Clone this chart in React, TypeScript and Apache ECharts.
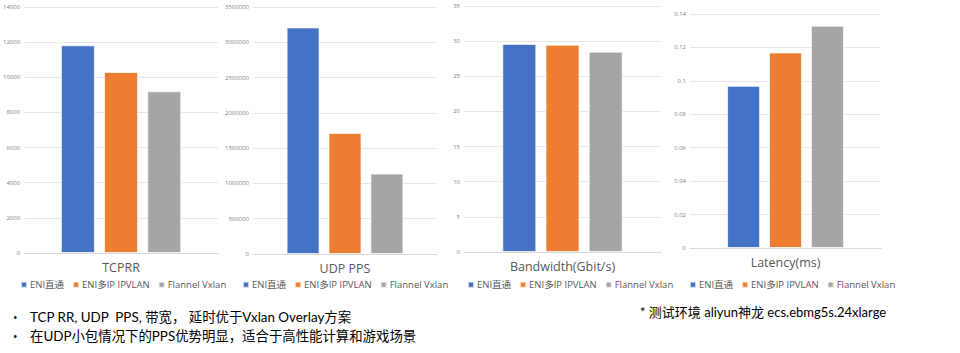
import React, { useEffect, useRef } from "react";
import * as echarts from "echarts";

const categories = ["TCPRR", "UDP PPS", "Bandwidth(Gbit/s)", "Latency(ms)"];
const seriesNames = ["ENI直通", "ENI多IP IPVLAN", "Flannel Vxlan"];
const eniDirect = [11820, 3210000, 29.6, 0.097];
const eniIpvlan = [10300, 1715000, 29.5, 0.117];
const flannelVxlan = [9200, 1140000, 28.5, 0.133];
const yMax = [14000, 3500000, 35, 0.14];
const yInterval = [2000, 500000, 5, 0.02];
const colors = ["#4472C4", "#ED7D31", "#A5A5A5"];
const bulletLines = [
  "TCP RR, UDP  PPS, 带宽， 延时优于Vxlan Overlay方案",
  "在UDP小包情况下的PPS优势明显，适合于高性能计算和游戏场景",
];
const envNote = "* 测试环境 aliyun神龙 ecs.ebmg5s.24xlarge";

const grids = [
  { left: 24, top: 7, width: 194, height: 246, barWidth: 34, legendLeft: 20 },
  { left: 253, top: 7, width: 184, height: 247, barWidth: 33, legendLeft: 242 },
  { left: 464, top: 6, width: 197, height: 246, barWidth: 34, legendLeft: 467 },
  { left: 690, top: 14, width: 191, height: 234, barWidth: 33, legendLeft: 689 },
];

const FONT = "'Open Sans', 'Noto Sans CJK SC', sans-serif";
const NOTE_FONT = "Lato, 'Noto Sans CJK SC', sans-serif";

export default function App() {
  const ref = useRef<HTMLDivElement>(null);
  useEffect(() => {
    if (!ref.current) return;
    const chart = echarts.init(ref.current, undefined, { renderer: "svg" });
    const valueSets = [eniDirect, eniIpvlan, flannelVxlan];
    const series: any[] = [];
    grids.forEach((g, gi) => {
      valueSets.forEach((vals, si) => {
        series.push({
          type: "bar",
          name: seriesNames[si],
          xAxisIndex: gi,
          yAxisIndex: gi,
          data: [vals[gi]],
          barWidth: g.barWidth,
          barGap: "27%",
          itemStyle: {
            color: colors[si],
            borderColor: "rgba(255,255,255,0.7)",
            borderWidth: 1,
          },
        });
      });
    });
    const option: any = {
      animation: false,
      textStyle: { fontFamily: FONT },
      grid: grids.map((g) => ({ left: g.left, top: g.top, width: g.width, height: g.height })),
      xAxis: grids.map((g, gi) => ({
        type: "category",
        gridIndex: gi,
        data: [categories[gi]],
        axisTick: { show: false },
        axisLine: { show: true, lineStyle: { color: "#D9D9D9", width: 1 } },
        axisLabel: { color: "#595959", fontSize: 12.5, margin: 8, fontFamily: FONT },
      })),
      yAxis: grids.map((g, gi) => ({
        type: "value",
        gridIndex: gi,
        min: 0,
        max: yMax[gi],
        interval: yInterval[gi],
        axisLine: { show: false },
        axisTick: { show: false },
        splitLine: { lineStyle: { color: "#E6E6E6", width: 1 } },
        axisLabel: {
          color: "#7F7F7F",
          fontSize: 6,
          margin: 4,
          fontFamily: FONT,
          formatter: (v: number) => String(+v.toFixed(10)),
        },
      })),
      legend: grids.map((g) => ({
        data: seriesNames,
        left: g.legendLeft,
        top: 280,
        padding: 0,
        icon: "rect",
        itemWidth: 6,
        itemHeight: 6,
        itemGap: 8,
        textStyle: { color: "#595959", fontSize: 9.5, fontFamily: FONT, padding: [0, 0, 0, -2] },
        selectedMode: false,
      })),
      series,
      graphic: [
        ...bulletLines.flatMap((line, i) => [
          {
            type: "text",
            left: 13,
            top: 311 + i * 19,
            style: { text: "•", fontSize: 12, fill: "#000", fontFamily: FONT },
          },
          {
            type: "text",
            left: 30,
            top: 310 + i * 19,
            style: { text: line, fontSize: 13.4, fill: "#000", fontFamily: NOTE_FONT },
          },
        ]),
        {
          type: "text",
          left: 640,
          top: 305,
          style: { text: envNote, fontSize: 13, fill: "#000", fontFamily: NOTE_FONT },
        },
      ],
    };
    chart.setOption(option);
    return () => chart.dispose();
  }, []);
  return (
    <div
      ref={ref}
      style={{ position: "absolute", left: 0, top: 0, width: 960, height: 353, background: "#fff" }}
    />
  );
}
